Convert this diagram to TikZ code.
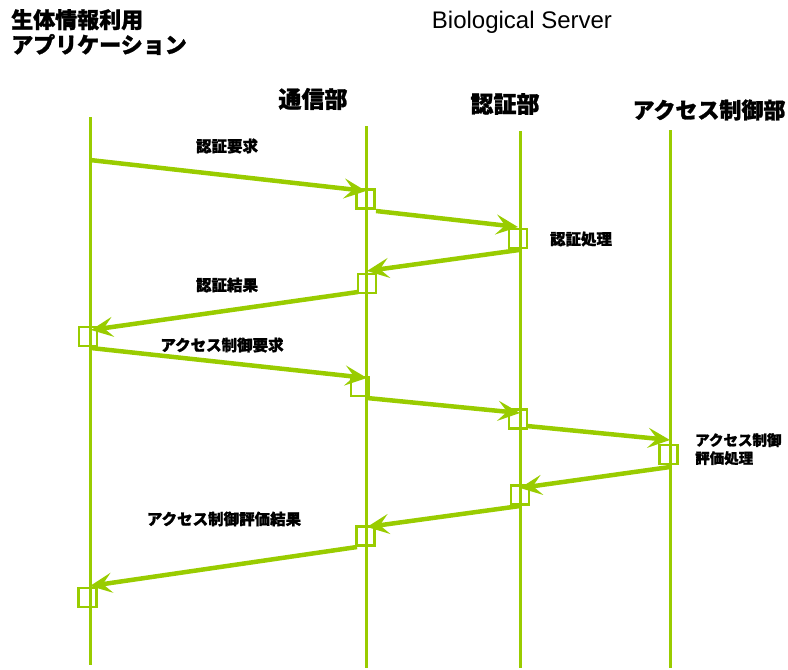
\documentclass[tikz,border=0pt]{standalone}
\usepackage{fontspec}
\setmainfont{Liberation Sans}
\newfontfamily\jp{Noto Sans CJK JP}[BoldFeatures={FakeBold=1.2}]
\usetikzlibrary{arrows.meta}
\definecolor{lg}{RGB}{153,204,0}
\begin{document}
\begin{tikzpicture}[x=1pt,y=-1pt,
  lifeline/.style={draw=lg,line width=3pt},
  actbox/.style={draw=lg,line width=2.8pt,minimum width=18pt,minimum height=19pt,inner sep=0pt},
  msg/.style={draw=lg,line width=4.5pt,-{Stealth[length=22pt,width=20pt,inset=9pt]}},
  header/.style={font=\jp\bfseries\fontsize{23}{25}\selectfont,inner sep=0pt},
  lbl/.style={font=\jp\bfseries\fontsize{15.5}{18}\selectfont,inner sep=0pt}]
\useasboundingbox (0,0) rectangle (788,670);
% titles
\node[header,anchor=north west,align=left,font=\jp\bfseries\fontsize{22}{25}\selectfont] (app) at (11,9) {生体情報利用\\アプリケーション};
\node[inner sep=0pt,font=\fontsize{24}{26}\selectfont] (srv) at (522,22) {Biological Server};
\node[header] (h2) at (313,99) {通信部};
\node[header] (h3) at (505,104) {認証部};
\node[header,font=\jp\bfseries\fontsize{22}{24}\selectfont] (h4) at (709,110) {アクセス制御部};
% lifelines
\coordinate (l1t) at (90,117); \coordinate (l1b) at (90,665);
\coordinate (l2t) at (366,126); \coordinate (l2b) at (366,668);
\coordinate (l3t) at (520,131); \coordinate (l3b) at (520,668);
\coordinate (l4t) at (670,130); \coordinate (l4b) at (670,668);
\draw[lifeline] (l1t) -- (l1b);
\draw[lifeline] (l2t) -- (l2b);
\draw[lifeline] (l3t) -- (l3b);
\draw[lifeline] (l4t) -- (l4b);
% activation boxes
\node[actbox] (b1) at (365.5,199) {};
\node[actbox] (b2) at (518,238.5) {};
\node[actbox] (b3) at (367,283.5) {};
\node[actbox] (b4) at (88,336.5) {};
\node[actbox] (b5) at (360,386.5) {};
\node[actbox] (b6) at (518,419) {};
\node[actbox] (b7) at (668.5,454.5) {};
\node[actbox] (b8) at (520,495) {};
\node[actbox] (b9) at (365.5,536) {};
\node[actbox] (b10) at (87.5,597.5) {};
% message end points
\coordinate (s1) at (90,160);  \coordinate (e1) at (366,191);
\coordinate (s2) at (376,211); \coordinate (e2) at (518,227);
\coordinate (s3) at (519,250); \coordinate (e3) at (367,271);
\coordinate (s4) at (358,292); \coordinate (e4) at (91,330);
\coordinate (s5) at (91,348);  \coordinate (e5) at (367,378);
\coordinate (s6) at (367,398); \coordinate (e6) at (520,413);
\coordinate (s7) at (527,426); \coordinate (e7) at (670,440);
\coordinate (s8) at (670,467); \coordinate (e8) at (520,488);
\coordinate (s9) at (520,506); \coordinate (e9) at (367,527);
\coordinate (s10) at (357,547); \coordinate (e10) at (90,586);
\foreach \i in {1,...,10} {\draw[msg] (s\i) -- (e\i);}
% labels
\node[lbl] (t1) at (227,146) {認証要求};
\node[lbl] (t2) at (581,239) {認証処理};
\node[lbl] (t3) at (227,285) {認証結果};
\node[lbl] (t4) at (222,345) {アクセス制御要求};
\node[lbl,anchor=north west,align=left,font=\jp\bfseries\fontsize{14.5}{18}\selectfont] (t5) at (695,433) {アクセス制御\\評価処理};
\node[lbl] (t6) at (224,519) {アクセス制御評価結果};
\end{tikzpicture}
\end{document}
